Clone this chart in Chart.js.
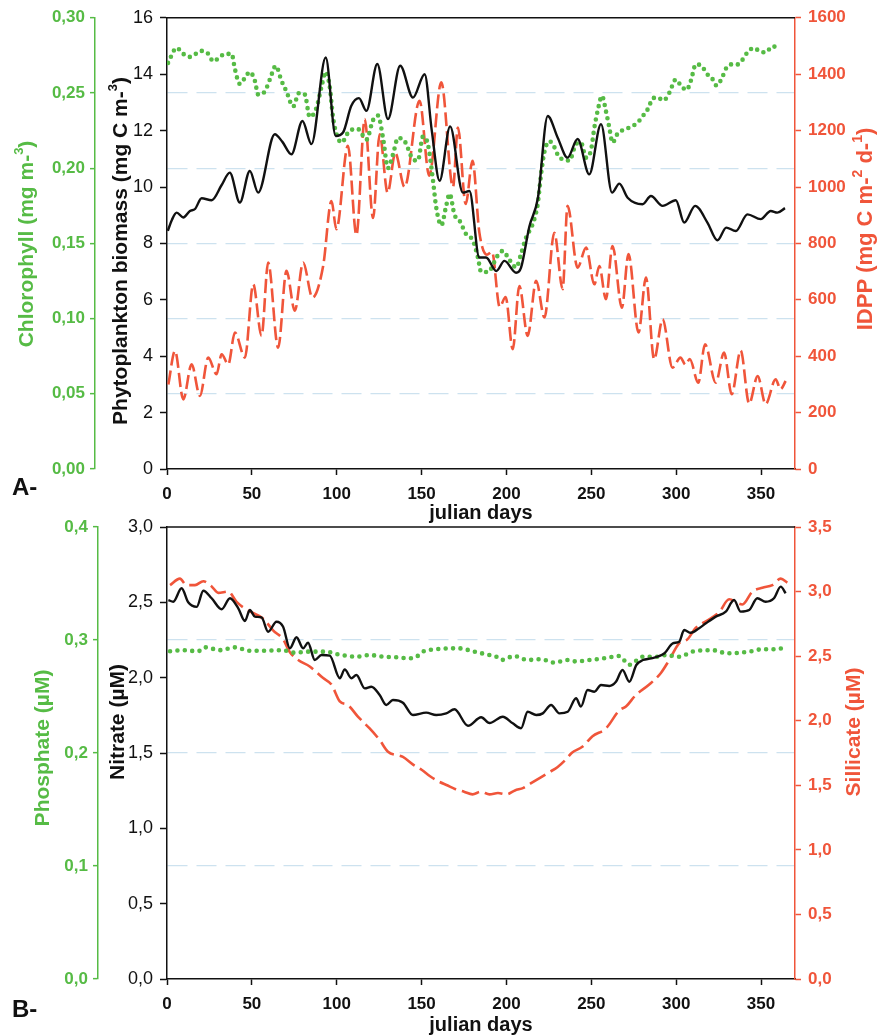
<!DOCTYPE html>
<html>
<head>
<meta charset="utf-8">
<script src="https://cdn.jsdelivr.net/npm/chart.js@4.4.1/dist/chart.umd.min.js"></script>
<style>
html,body{margin:0;padding:0;background:#fff;width:878px;height:1035px;overflow:hidden;}
#ca{position:absolute;left:0;top:0;}
#cb{position:absolute;left:0;top:505px;}
</style>
</head>
<body>
<canvas id="ca" width="878" height="530"></canvas>
<canvas id="cb" width="878" height="530"></canvas>
<script>
// ---------------- DATA (panel A) ----------------
const dayTicks = [0, 50, 100, 150, 200, 250, 300, 350];
const chlTicks = [0, 0.05, 0.10, 0.15, 0.20, 0.25, 0.30];
const biomassTicks = [0, 2, 4, 6, 8, 10, 12, 14, 16];
const idppTicks = [0, 200, 400, 600, 800, 1000, 1200, 1400, 1600];

const biomassDays = [0.5, 3, 5.7, 9.6, 13.5, 16.5, 20.4, 26.3, 32.2, 37, 42.9, 48.8, 53.7, 63.5, 68, 73.3, 79.8, 85.1, 93.5, 99.4, 103.7, 108.6, 113.1, 117.5, 123.9, 130.2, 137.4, 144.9, 151.8, 156, 160.6, 166.8, 174.3, 178.2, 184, 188, 194, 198.8, 205.7, 208.6, 213.5, 218.5, 224.3, 230.2, 236, 241.9, 248.8, 255.7, 262.2, 266.5, 271.4, 280.2, 285.1, 292, 299.8, 304.7, 311.2, 318.4, 324.3, 329.5, 335.1, 342, 349.8, 355.7, 359.6, 364.1];
const biomassValues = [8.45, 8.85, 9.09, 8.92, 9.15, 9.22, 9.6, 9.53, 10.07, 10.51, 9.45, 10.57, 9.8, 11.87, 11.6, 11.16, 12.34, 11.52, 14.59, 11.81, 11.93, 12.88, 13.15, 12.7, 14.36, 12.41, 14.3, 13.17, 14.0, 12.0, 10.22, 12.15, 9.8, 9.86, 7.5, 7.5, 7.02, 7.38, 6.96, 7.14, 8.6, 9.6, 12.52, 11.75, 11.04, 11.7, 10.45, 12.23, 9.8, 10.12, 9.62, 9.39, 9.68, 9.33, 9.53, 8.74, 9.33, 8.74, 8.11, 8.56, 8.44, 9.03, 8.86, 9.15, 9.09, 9.25];

const chlDays = [0.6, 5.7, 9.6, 13.5, 20.4, 24.3, 27.3, 30.2, 34.1, 38.1, 40, 42.9, 45.9, 48.8, 51.8, 53.7, 57.6, 60.6, 64.1, 67.5, 70.4, 74.3, 77.8, 81.2, 84.1, 88, 91, 93.5, 95.9, 97.8, 99.8, 102.8, 107.6, 112.5, 117.5, 121.4, 124.3, 127.3, 130.2, 133.1, 136.1, 140, 144.9, 147.8, 150.8, 153.7, 156.7, 158.6, 161.6, 164.5, 166.5, 169.4, 172.4, 176.3, 180.2, 183.1, 185.1, 189, 194.9, 197.8, 201.8, 205.7, 208.6, 211.6, 215.5, 218.4, 220.4, 222.4, 225.3, 228.2, 231.2, 234.1, 237.1, 241, 243.9, 246.9, 249.8, 251.8, 253.7, 256.3, 258.6, 260.6, 262.5, 265.5, 270.4, 274.3, 277.8, 281.2, 284.1, 285.7, 289, 292.5, 295.9, 299.8, 302.7, 306.1, 308.6, 311.6, 315.1, 317.8, 321, 323.7, 327, 329.2, 332.2, 336.1, 339, 342, 345.9, 348.8, 352.8, 356.7, 360.6];
const chlValues = [0.270, 0.280, 0.276, 0.274, 0.278, 0.276, 0.271, 0.273, 0.276, 0.276, 0.266, 0.256, 0.260, 0.264, 0.258, 0.249, 0.251, 0.259, 0.268, 0.258, 0.251, 0.241, 0.250, 0.249, 0.234, 0.240, 0.254, 0.264, 0.254, 0.234, 0.223, 0.217, 0.225, 0.226, 0.219, 0.232, 0.235, 0.220, 0.200, 0.209, 0.220, 0.218, 0.206, 0.205, 0.221, 0.216, 0.192, 0.174, 0.162, 0.175, 0.183, 0.169, 0.165, 0.156, 0.152, 0.141, 0.131, 0.131, 0.142, 0.145, 0.139, 0.134, 0.143, 0.154, 0.163, 0.176, 0.196, 0.211, 0.218, 0.214, 0.207, 0.206, 0.205, 0.216, 0.217, 0.207, 0.212, 0.227, 0.238, 0.248, 0.238, 0.227, 0.217, 0.223, 0.226, 0.228, 0.231, 0.236, 0.241, 0.246, 0.247, 0.245, 0.250, 0.259, 0.255, 0.252, 0.258, 0.269, 0.268, 0.263, 0.260, 0.255, 0.260, 0.266, 0.269, 0.269, 0.272, 0.277, 0.280, 0.278, 0.277, 0.281, 0.280];

const idppDays = [0.8, 4.7, 9.6, 14.5, 19.4, 24.3, 29.2, 32.2, 36.1, 40, 45.9, 50.8, 55.7, 59.6, 65.5, 70.4, 75.3, 80.2, 85.7, 92, 96.9, 99.8, 106.6, 111.6, 116.5, 121.4, 125.3, 130, 134.5, 140, 148.8, 154.5, 161.6, 168.5, 171.4, 176, 180, 184, 188.5, 191.5, 196, 199.5, 203.7, 207.6, 212.5, 217.5, 222.4, 228.2, 233.1, 236, 241.9, 246.9, 251.8, 254.7, 258.6, 262.5, 268, 271.9, 277.8, 282.2, 287, 292, 297.8, 302.5, 305.5, 308, 313, 317, 323.3, 328.2, 332.7, 338, 343, 348, 352.7, 358.6, 361.5, 364.5];
const idppValues = [300, 419, 247, 371, 259, 395, 336, 407, 371, 484, 395, 655, 472, 732, 430, 703, 561, 732, 608, 720, 950, 850, 1146, 830, 1241, 890, 1187, 980, 1120, 1000, 1306, 1040, 1371, 1000, 1211, 940, 1093, 840, 760, 770, 575, 610, 425, 649, 472, 667, 537, 838, 638, 933, 714, 785, 655, 720, 602, 791, 572, 762, 484, 679, 389, 531, 359, 395, 370, 390, 306, 442, 306, 413, 265, 420, 232, 330, 230, 318, 283, 312];

// ---------------- DATA (panel B) ----------------
const phosTicks = [0, 0.1, 0.2, 0.3, 0.4];
const nitTicks = [0, 0.5, 1.0, 1.5, 2.0, 2.5, 3.0];
const silTicks = [0, 0.5, 1.0, 1.5, 2.0, 2.5, 3.0, 3.5];

const phosDays = [1.8, 9.8, 18.3, 22.4, 31.2, 40, 48.8, 56.7, 68.4, 74.3, 84.1, 94, 99.8, 111.6, 119.4, 127.3, 135.1, 143, 147, 150.8, 158.6, 167.5, 172.4, 180.2, 188, 194, 196.9, 204.7, 212.5, 220.4, 228.2, 236, 241, 248.8, 257.6, 266.5, 272.4, 280.4, 288.2, 294.1, 301.8, 309.6, 321.4, 330.2, 343, 350.8, 358.6, 364.5];
const phosValues = [0.290, 0.291, 0.290, 0.2935, 0.291, 0.2935, 0.2905, 0.2905, 0.291, 0.2888, 0.2897, 0.2897, 0.2876, 0.2852, 0.2867, 0.2852, 0.2847, 0.2838, 0.2852, 0.2897, 0.2918, 0.2926, 0.2926, 0.290, 0.2873, 0.2852, 0.2823, 0.2858, 0.2823, 0.283, 0.280, 0.2823, 0.281, 0.2823, 0.2838, 0.2858, 0.278, 0.2852, 0.2852, 0.2867, 0.2852, 0.2897, 0.291, 0.2882, 0.2897, 0.2918, 0.2918, 0.2935];

const nitDays = [0.8, 3.7, 8.6, 12.5, 17.5, 21.4, 26.3, 32.2, 37.1, 42, 45.9, 48.8, 51.8, 55.7, 59.6, 64.5, 68.4, 72.4, 76.3, 80.2, 83.1, 87.1, 91, 95.9, 101.8, 104.7, 108.6, 111.6, 116.5, 120.4, 125.3, 129.2, 133.1, 139, 144.9, 152.7, 158.6, 164.5, 169.4, 177.3, 185.1, 190, 197.8, 203.7, 208.6, 212.5, 217.5, 221.4, 226.3, 231.2, 236.1, 241, 243.9, 247.8, 251.8, 255.7, 260.6, 264.5, 268.4, 272.4, 276.5, 280.4, 285.3, 293.1, 298, 301.8, 304.7, 308.6, 313.5, 317.5, 323.3, 329.2, 334.1, 338, 343, 347.8, 352.7, 357.6, 361.6, 364.5];
const nitValues = [2.515, 2.504, 2.593, 2.50, 2.47, 2.577, 2.527, 2.454, 2.527, 2.46, 2.376, 2.449, 2.405, 2.40, 2.305, 2.371, 2.338, 2.195, 2.268, 2.195, 2.232, 2.117, 2.150, 2.146, 1.996, 2.055, 1.996, 2.018, 1.929, 1.940, 1.885, 1.819, 1.852, 1.834, 1.752, 1.768, 1.752, 1.763, 1.790, 1.681, 1.737, 1.699, 1.741, 1.697, 1.664, 1.774, 1.752, 1.763, 1.819, 1.763, 1.774, 1.863, 1.808, 1.918, 1.907, 1.951, 1.945, 1.973, 2.051, 1.973, 2.084, 2.117, 2.128, 2.162, 2.228, 2.239, 2.316, 2.298, 2.328, 2.361, 2.405, 2.438, 2.515, 2.438, 2.449, 2.527, 2.504, 2.527, 2.604, 2.56];

const silDays = [1.8, 7.6, 11.6, 16.5, 21.4, 26.3, 30.2, 36.1, 41, 46.9, 56.7, 62.5, 68.4, 72.4, 77.3, 84.1, 92, 96.9, 101.8, 106.7, 112.6, 119.4, 125.3, 130.2, 139, 145, 150, 155, 160, 165, 170, 175, 180, 185, 190, 195, 200, 205, 210, 215, 220, 225, 230, 235, 238.4, 244.9, 250.7, 258.6, 266.5, 270.4, 276.3, 284.1, 291, 295.9, 301.8, 306.6, 311.6, 317.5, 325.3, 331.2, 339, 344.9, 350.8, 356.7, 361.6, 365.5];
const silValues = [3.05, 3.10, 3.05, 3.05, 3.08, 3.04, 2.99, 3.00, 2.92, 2.86, 2.79, 2.70, 2.63, 2.53, 2.47, 2.42, 2.33, 2.28, 2.15, 2.12, 2.03, 1.94, 1.85, 1.76, 1.72, 1.66, 1.62, 1.57, 1.53, 1.50, 1.47, 1.45, 1.43, 1.45, 1.43, 1.44, 1.43, 1.46, 1.48, 1.52, 1.56, 1.60, 1.64, 1.70, 1.75, 1.80, 1.88, 1.94, 2.08, 2.11, 2.20, 2.28, 2.37, 2.47, 2.60, 2.63, 2.72, 2.77, 2.84, 2.94, 2.90, 3.00, 3.03, 3.05, 3.10, 3.07];

// ---------------- STYLE ----------------
const FONT = '"Liberation Sans", Arial, Helvetica, sans-serif';
const GREEN = '#56bb45';
const RED = '#f0553a';
const BLACK = '#111111';
const GRIDC = '#cde2ef';

function pts(days, vals) { return days.map((d, i) => ({ x: d, y: vals[i] })); }
function fixTicks(arr) { return s => { s.ticks = arr.map(v => ({ value: v })); }; }
function comma(dec) { return v => Number(v).toFixed(dec).replace('.', ','); }

function drawRich(ctx, parts, cx, cy, size, color) {
  const base = 'bold ' + size + 'px ' + FONT;
  const supSize = Math.round(size * 0.62);
  const sup = 'bold ' + supSize + 'px ' + FONT;
  let total = 0;
  const widths = parts.map(p => { ctx.font = p.sup ? sup : base; const w = ctx.measureText(p.t).width; total += w; return w; });
  ctx.save();
  ctx.translate(cx, cy);
  ctx.rotate(-Math.PI / 2);
  ctx.fillStyle = color;
  ctx.textBaseline = 'middle';
  ctx.textAlign = 'left';
  let x = -total / 2;
  parts.forEach((p, i) => {
    ctx.font = p.sup ? sup : base;
    ctx.fillText(p.t, x, p.sup ? -size * 0.36 : 0);
    x += widths[i];
  });
  ctx.restore();
}

function decorPlugin(titles, panelLabel) {
  return {
    id: 'decor',
    afterDatasetsDraw(chart) {
      const ctx = chart.ctx, ca = chart.chartArea;
      ctx.save();
      ctx.strokeStyle = BLACK;
      ctx.lineWidth = 1.5;
      ctx.beginPath();
      ctx.moveTo(ca.left, ca.top);
      ctx.lineTo(ca.right, ca.top);
      ctx.stroke();
      ctx.restore();
    },
    afterDraw(chart) {
      const ctx = chart.ctx;
      titles.forEach(t => drawRich(ctx, t.parts, t.x, t.y, t.size, t.color));
      ctx.save();
      ctx.fillStyle = BLACK;
      ctx.font = 'bold 24px ' + FONT;
      ctx.textAlign = 'left';
      ctx.textBaseline = 'middle';
      ctx.fillText(panelLabel.text, panelLabel.x, panelLabel.y);
      ctx.restore();
    }
  };
}

function xAxis(height, titlePadBottom) {
  return {
    type: 'linear', position: 'bottom', min: 0, max: 370,
    afterBuildTicks: fixTicks(dayTicks),
    afterFit: s => { s.height = height; },
    ticks: { color: BLACK, font: { family: FONT, size: 17, weight: 'bold' }, padding: 9, maxRotation: 0, autoSkip: false, callback: v => String(v) },
    grid: { drawOnChartArea: false, tickLength: 6, tickColor: BLACK, tickWidth: 1.5 },
    border: { color: BLACK, width: 1.5 },
    title: { display: true, text: 'julian days', color: BLACK, font: { family: FONT, size: 20, weight: 'bold', lineHeight: 1 }, padding: { top: 0, bottom: titlePadBottom } }
  };
}

function gridAxis(min, max, ticksArr, dec, width) {
  return {
    type: 'linear', position: 'left', weight: 2, min: min, max: max,
    afterBuildTicks: fixTicks(ticksArr),
    afterFit: s => { s.width = width; },
    ticks: { color: GREEN, font: { family: FONT, size: 17, weight: 'bold' }, padding: 5, callback: comma(dec) },
    grid: {
      drawOnChartArea: true,
      color: c => (c.tick && (c.tick.value <= 1e-9 || c.tick.value >= max - 1e-9)) ? 'rgba(0,0,0,0)' : GRIDC,
      lineWidth: 1.3, tickLength: 5, tickColor: GREEN, tickWidth: 1.5
    },
    border: { color: GREEN, width: 1.5, dash: [20, 9] }
  };
}

function innerAxis(min, max, ticksArr, cb, width) {
  return {
    type: 'linear', position: 'left', weight: 1, min: min, max: max,
    afterBuildTicks: fixTicks(ticksArr),
    afterFit: s => { s.width = width; },
    ticks: { color: BLACK, font: { family: FONT, size: 18, weight: 'normal' }, padding: 7, callback: cb },
    grid: { drawOnChartArea: false, tickLength: 7, tickColor: BLACK, tickWidth: 1.5 },
    border: { color: BLACK, width: 1.5 }
  };
}

function rightAxis(min, max, ticksArr, cb, width) {
  return {
    type: 'linear', position: 'right', min: min, max: max,
    afterBuildTicks: fixTicks(ticksArr),
    afterFit: s => { s.width = width; },
    ticks: { color: RED, font: { family: FONT, size: 17, weight: 'bold' }, padding: 7, callback: cb },
    grid: { drawOnChartArea: false, tickLength: 6, tickColor: RED, tickWidth: 1.5 },
    border: { color: RED, width: 1.5 }
  };
}

const common = {
  responsive: false, animation: false, events: [],
  plugins: { legend: { display: false }, tooltip: { enabled: false } },
  elements: { point: { radius: 0 } }
};

// ---------------- PANEL A ----------------
new Chart(document.getElementById('ca'), {
  type: 'line',
  data: {
    datasets: [
      { label: 'Phytoplankton biomass', data: pts(biomassDays, biomassValues), yAxisID: 'yBio', borderColor: BLACK, borderWidth: 2.4, cubicInterpolationMode: 'monotone', order: 0 },
      { label: 'Chlorophyll', data: pts(chlDays, chlValues), yAxisID: 'yChl', borderColor: GREEN, borderWidth: 4.6, borderDash: [0, 6.8], borderCapStyle: 'round', cubicInterpolationMode: 'monotone', order: 1 },
      { label: 'IDPP', data: pts(idppDays, idppValues), yAxisID: 'yIdpp', borderColor: RED, borderWidth: 2.6, borderDash: [14, 5], cubicInterpolationMode: 'monotone', order: 2 }
    ]
  },
  options: Object.assign({}, common, {
    layout: { padding: { top: 17, left: 0, right: 0, bottom: 0 } },
    scales: {
      x: xAxis(61, 7),
      yChl: gridAxis(0, 0.30, chlTicks, 2, 95),
      yBio: innerAxis(0, 16, biomassTicks, v => String(v), 72),
      yIdpp: rightAxis(0, 1600, idppTicks, v => String(v), 83)
    }
  }),
  plugins: [decorPlugin([
    { parts: [{ t: 'Chlorophyll (mg m-' }, { t: '3', sup: true }, { t: ')' }], x: 27, y: 244, size: 21, color: GREEN },
    { parts: [{ t: 'Phytoplankton biomass (mg C m-' }, { t: '3', sup: true }, { t: ')' }], x: 121, y: 251, size: 21, color: BLACK },
    { parts: [{ t: 'IDPP (mg C m-' }, { t: '2', sup: true }, { t: ' d-' }, { t: '1', sup: true }, { t: ')' }], x: 866, y: 229, size: 22, color: RED }
  ], { text: 'A-', x: 12, y: 488 })]
});

// ---------------- PANEL B ----------------
new Chart(document.getElementById('cb'), {
  type: 'line',
  data: {
    datasets: [
      { label: 'Nitrate', data: pts(nitDays, nitValues), yAxisID: 'yNit', borderColor: BLACK, borderWidth: 2.4, cubicInterpolationMode: 'monotone', order: 0 },
      { label: 'Phosphate', data: pts(phosDays, phosValues), yAxisID: 'yPhos', borderColor: GREEN, borderWidth: 4.6, borderDash: [0, 7.4], borderCapStyle: 'round', cubicInterpolationMode: 'monotone', order: 1 },
      { label: 'Sillicate', data: pts(silDays, silValues), yAxisID: 'ySil', borderColor: RED, borderWidth: 2.6, borderDash: [18, 6], cubicInterpolationMode: 'monotone', order: 2 }
    ]
  },
  options: Object.assign({}, common, {
    layout: { padding: { top: 22, left: 0, right: 0, bottom: 0 } },
    scales: {
      x: xAxis(56, 0),
      yPhos: gridAxis(0, 0.4, phosTicks, 1, 98),
      yNit: innerAxis(0, 3.0, nitTicks, comma(1), 69),
      ySil: rightAxis(0, 3.5, silTicks, comma(1), 83)
    }
  }),
  plugins: [decorPlugin([
    { parts: [{ t: 'Phosphate (\u00b5M)' }], x: 43, y: 243, size: 21, color: GREEN },
    { parts: [{ t: 'Nitrate (\u00b5M)' }], x: 118, y: 217, size: 21, color: BLACK },
    { parts: [{ t: 'Sillicate (\u00b5M)' }], x: 854, y: 227, size: 21, color: RED }
  ], { text: 'B-', x: 12, y: 505 })]
});
</script>
</body>
</html>
